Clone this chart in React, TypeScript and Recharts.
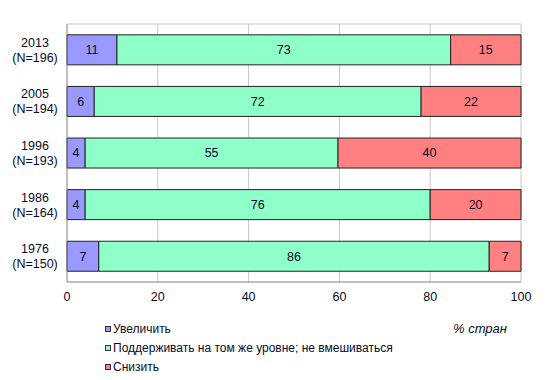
import React from 'react';
import { BarChart, Bar, XAxis, YAxis, CartesianGrid, LabelList } from 'recharts';

const years = ['2013', '2005', '1996', '1986', '1976'];
const sampleSizes = ['(N=196)', '(N=194)', '(N=193)', '(N=164)', '(N=150)'];
const increase = [11, 6, 4, 4, 7];
const maintain = [73.5, 72, 55.7, 76, 86];
const reduce = [15.5, 22, 40.3, 20, 7];
const increaseLabels = ['11', '6', '4', '4', '7'];
const maintainLabels = ['73', '72', '55', '76', '86'];
const reduceLabels = ['15', '22', '40', '20', '7'];
const xTicks = [0, 20, 40, 60, 80, 100];

const seriesNames = ['Увеличить', 'Поддерживать на  том же уровне; не вмешиваться', 'Снизить'];
const colors = ['#9999FF', '#8FFFC9', '#FF8080'];

const data = years.map((y, i) => ({
  year: y,
  n: sampleSizes[i],
  inc: increase[i],
  mnt: maintain[i],
  red: reduce[i],
  incL: increaseLabels[i],
  mntL: maintainLabels[i],
  redL: reduceLabels[i],
}));

const FONT = '"Liberation Sans", Arial, sans-serif';
const TXT = '#0a0a2a';

const YTick = (props: any) => {
  const { y, payload } = props;
  const idx = years.indexOf(payload.value);
  return (
    <g>
      <text x={35} y={y - 3} textAnchor="middle" fontFamily={FONT} fontSize={12.5} fill={TXT}>
        {payload.value}
      </text>
      <text x={35} y={y + 12} textAnchor="middle" fontFamily={FONT} fontSize={12.5} fill={TXT}>
        {sampleSizes[idx]}
      </text>
    </g>
  );
};

const XTick = (props: any) => {
  const { x, y, payload } = props;
  return (
    <text x={x} y={y + 11} textAnchor="middle" fontFamily={FONT} fontSize={12.5} fill={TXT}>
      {payload.value}
    </text>
  );
};

const labelStyle = { fontFamily: FONT, fontSize: 12.5, fill: TXT };

export default function App() {
  return (
    <div style={{ position: 'absolute', left: 0, top: 0, width: 550, height: 380, background: '#fff' }}>
      <BarChart
        width={550}
        height={380}
        data={data}
        layout="vertical"
        margin={{ top: 24, right: 29, bottom: 68, left: 0 }}
        barCategoryGap="21%"
      >
        <CartesianGrid
          stroke="#c8c8c8"
          vertical={true}
          horizontal={true}
          horizontalCoordinatesGenerator={(p: any) => [p.offset.top]}
          verticalCoordinatesGenerator={(p: any) => {
            const w = p.offset.width;
            const l = p.offset.left;
            return xTicks.slice(1).map((t) => l + (w * t) / 100);
          }}
        />
        <XAxis
          type="number"
          domain={[0, 100]}
          ticks={xTicks}
          tick={<XTick />}
          tickLine={false}
          axisLine={{ stroke: '#808080' }}
          height={30}
          interval={0}
        />
        <YAxis
          type="category"
          dataKey="year"
          width={67}
          tick={<YTick />}
          tickLine={false}
          axisLine={{ stroke: '#808080' }}
          interval={0}
        />
        <Bar dataKey="inc" stackId="a" fill={colors[0]} stroke="#222" strokeWidth={1} isAnimationActive={false}>
          <LabelList dataKey="incL" position="center" style={labelStyle} />
        </Bar>
        <Bar dataKey="mnt" stackId="a" fill={colors[1]} stroke="#222" strokeWidth={1} isAnimationActive={false}>
          <LabelList dataKey="mntL" position="center" style={labelStyle} />
        </Bar>
        <Bar dataKey="red" stackId="a" fill={colors[2]} stroke="#222" strokeWidth={1} isAnimationActive={false}>
          <LabelList dataKey="redL" position="center" style={labelStyle} />
        </Bar>
      </BarChart>
      <div style={{ position: 'absolute', left: 0, top: 0, width: 550, height: 380, pointerEvents: 'none' }}>
        <svg width={550} height={380}>
          {seriesNames.map((name, i) => (
            <g key={name}>
              <rect x={105.5} y={326.5 + i * 19} width={5} height={5} fill={colors[i]} stroke="#333" strokeWidth={1} />
              <text x={113} y={333 + i * 19} fontFamily={FONT} fontSize={12} fill={TXT}>
                {name}
              </text>
            </g>
          ))}
          <text x={453} y={333} textAnchor="start" fontFamily={FONT} fontSize={13} fontStyle="italic" fill={TXT}>
            % стран
          </text>
        </svg>
      </div>
    </div>
  );
}
